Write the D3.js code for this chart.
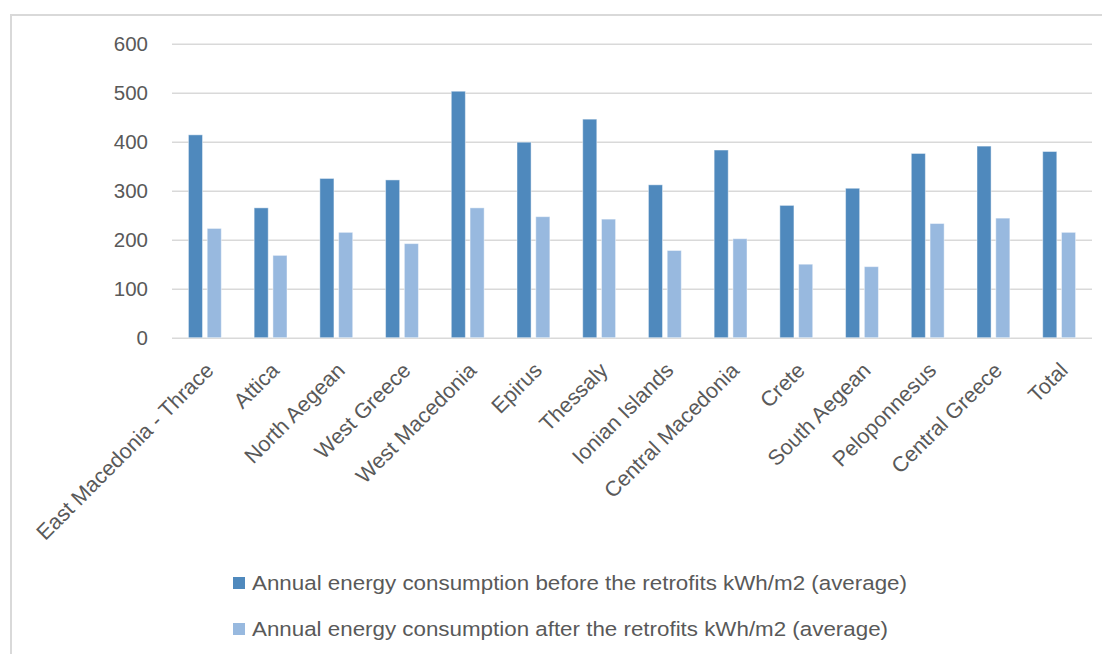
<!DOCTYPE html>
<html>
<head>
<meta charset="utf-8">
<script src="https://cdn.jsdelivr.net/npm/d3@7/dist/d3.min.js"></script>
<style>
  html, body { margin: 0; padding: 0; background: #fff; }
  svg { display: block; }
  text { font-family: "Liberation Sans", Arial, sans-serif; fill: #595959; }
</style>
</head>
<body>
<svg id="chart" width="1102" height="654"></svg>
<script>
// Regions of Greece plus the overall total
const categories = [
  "East Macedonia - Thrace", "Attica", "North Aegean", "West Greece",
  "West Macedonia", "Epirus", "Thessaly", "Ionian Islands",
  "Central Macedonia", "Crete", "South Aegean", "Peloponnesus",
  "Central Greece", "Total"
];
// Average annual energy consumption, kWh/m2
const beforeValues = [414, 265, 325, 322, 503, 399, 446, 312, 383, 270, 305, 376, 391, 380];
const afterValues  = [223, 168, 215, 192, 265, 247, 242, 178, 202, 150, 145, 233, 244, 215];
const seriesNames = [
  "Annual energy consumption before the retrofits kWh/m2 (average)",
  "Annual energy consumption after the retrofits kWh/m2 (average)"
];
const yTicks = [0, 100, 200, 300, 400, 500, 600];

const colors = ["#4f89bd", "#98b9df"];
const seriesValues = [beforeValues, afterValues];

const svg = d3.select("#chart");

// Chart frame (top and left edges)
svg.append("path")
  .attr("d", "M11,1000 L11,15 L1102,15")
  .attr("fill", "none")
  .attr("stroke", "#d9d9d9")
  .attr("stroke-width", 2);

const plot = { left: 172, right: 1092, top: 43.7, bottom: 337.7 };

const x0 = d3.scaleBand()
  .domain(categories)
  .range([plot.left, plot.right])
  .paddingInner(0.5)
  .paddingOuter(0.25);

const x1 = d3.scaleBand()
  .domain([0, 1])
  .range([0, x0.bandwidth()])
  .paddingInner(0.25);

const y = d3.scaleLinear()
  .domain([0, 600])
  .range([plot.bottom, plot.top]);

// Horizontal gridlines and value labels
const yAxis = d3.axisLeft(y)
  .tickValues(yTicks)
  .tickSize(-(plot.right - plot.left))
  .tickPadding(24);

const gy = svg.append("g")
  .attr("transform", `translate(${plot.left},0)`)
  .call(yAxis);
gy.select(".domain").remove();
gy.selectAll(".tick line")
  .attr("stroke", "#d9d9d9")
  .attr("stroke-width", 1.6);
gy.selectAll(".tick text")
  .attr("font-size", 20.5)
  .attr("fill", "#595959")
  .style("font-family", "'Liberation Sans', Arial, sans-serif");

// Bars
const groups = svg.append("g")
  .selectAll("g")
  .data(categories)
  .join("g")
  .attr("transform", d => `translate(${x0(d)},0)`);

groups.selectAll("rect")
  .data((d, i) => seriesValues.map((vals, s) => ({ s, v: vals[i] })))
  .join("rect")
  .attr("x", d => x1(d.s))
  .attr("width", x1.bandwidth())
  .attr("y", d => y(d.v))
  .attr("height", d => y(0) - y(d.v))
  .attr("fill", d => colors[d.s])
  .attr("stroke", "rgba(255,255,255,0.45)")
  .attr("stroke-width", 1);

// Rotated category labels
const xAxis = d3.axisBottom(x0).tickSize(0).tickPadding(0);
const gx = svg.append("g")
  .attr("transform", `translate(0,${plot.bottom})`)
  .call(xAxis);
gx.select(".domain").remove();
gx.selectAll(".tick text")
  .attr("font-size", 21.5)
  .attr("fill", "#595959")
  .style("font-family", "'Liberation Sans', Arial, sans-serif")
  .attr("text-anchor", "end")
  .attr("dy", null)
  .attr("y", null)
  .attr("transform", "translate(10,34) rotate(-45)");

// Legend
const legend = svg.append("g");
const legendRows = [
  { name: seriesNames[0], color: colors[0], baseline: 590, width: 655 },
  { name: seriesNames[1], color: colors[1], baseline: 636, width: 636 }
];
legendRows.forEach(r => {
  legend.append("rect")
    .attr("x", 233)
    .attr("y", r.baseline - 13)
    .attr("width", 12)
    .attr("height", 12)
    .attr("fill", r.color);
  legend.append("text")
    .attr("x", 252)
    .attr("y", r.baseline)
    .attr("font-size", 20.5)
    .attr("textLength", r.width)
    .attr("lengthAdjust", "spacingAndGlyphs")
    .text(r.name);
});
</script>
</body>
</html>
